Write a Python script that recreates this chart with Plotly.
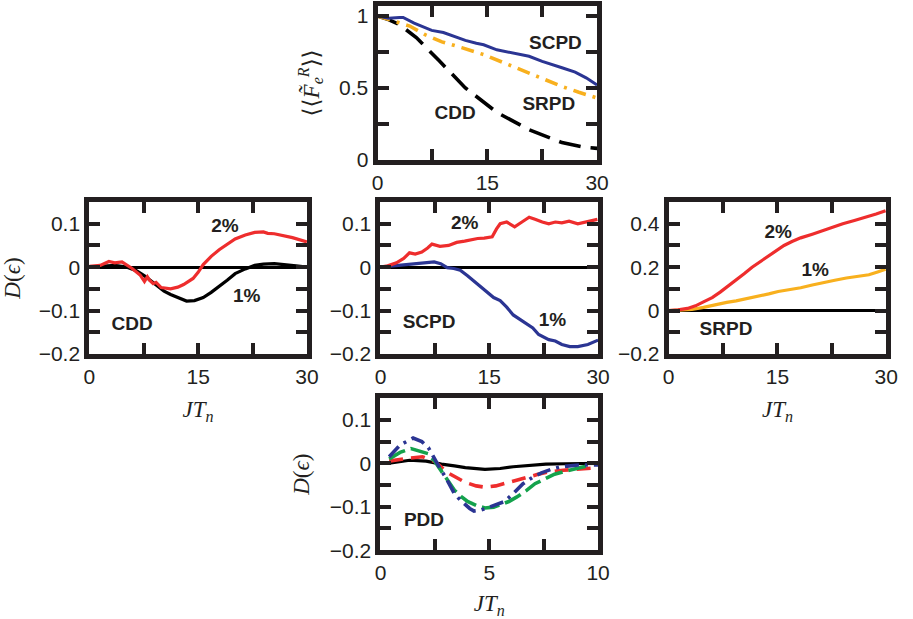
import plotly.graph_objects as go

W, H = 913, 619

# ---------------- data ----------------
# Top panel: <<F_e^R>> vs JT_n
top_scpd_x = [0, 1.5, 3.0, 3.5, 5, 7.4, 9, 10.5, 12, 13.5, 14.5, 16.3, 18.5, 20.7, 22.5, 23.8, 25.2, 27, 28.5, 30]
top_scpd_y = [1.0, 0.985, 0.99, 0.99, 0.95, 0.90, 0.885, 0.855, 0.83, 0.81, 0.80, 0.765, 0.745, 0.72, 0.685, 0.665, 0.64, 0.61, 0.57, 0.52]
top_srpd_x = [0, 2, 4.4, 6.5, 8.8, 11.5, 14.6, 17, 19.9, 22.5, 25.2, 27.5, 30]
top_srpd_y = [1.0, 0.97, 0.93, 0.87, 0.82, 0.78, 0.73, 0.68, 0.62, 0.57, 0.51, 0.47, 0.43]
top_cdd_x = [0, 1.5, 3, 5.3, 8.4, 12, 16.3, 20.7, 25.2, 28, 30]
top_cdd_y = [1.0, 0.975, 0.94, 0.85, 0.69, 0.50, 0.33, 0.21, 0.12, 0.09, 0.08]

# Left panel: CDD, D(eps)
cdd_2_x = [0, 1.5, 2.7, 3.5, 4.5, 5.9, 7.0, 7.6, 8.0, 8.3, 8.8, 9.2, 9.9, 11.2, 12.2, 13, 14.3, 15.0, 15.7, 16.8, 17.9, 19, 20.1, 21.5, 22.8, 24.0, 24.6, 25.5, 26.8, 28, 30]
cdd_2_y = [0.002, 0.004, 0.013, 0.010, 0.012, -0.003, -0.018, -0.033, -0.022, -0.030, -0.038, -0.035, -0.047, -0.050, -0.046, -0.040, -0.026, -0.012, 0.006, 0.025, 0.040, 0.053, 0.065, 0.074, 0.080, 0.081, 0.078, 0.077, 0.072, 0.068, 0.058]
cdd_1_x = [0, 2, 3.5, 5.2, 6.5, 7.6, 8.5, 9.4, 10.3, 11.2, 12.3, 13.4, 14.5, 15.7, 16.8, 17.9, 19, 20.1, 21.5, 22.8, 24, 25.5, 27, 28.5, 30]
cdd_1_y = [0.0, 0.003, 0.004, 0.0, -0.008, -0.020, -0.032, -0.045, -0.055, -0.063, -0.070, -0.078, -0.077, -0.070, -0.058, -0.045, -0.030, -0.015, -0.004, 0.004, 0.007, 0.008, 0.006, 0.003, 0.0]

# Middle panel: SCPD, D(eps)
scpd_2_x = [0, 1.0, 2.2, 3.2, 4.0, 4.8, 5.7, 6.5, 7.1, 8.2, 9.4, 10.5, 11.6, 12.5, 13.4, 14.3, 15.4, 16.0, 16.5, 17.4, 18.5, 19.5, 20.5, 21.4, 22.3, 23.2, 24.1, 25.0, 26.0, 27.2, 28.5, 29.9]
scpd_2_y = [0.0, 0.003, 0.010, 0.020, 0.033, 0.030, 0.035, 0.044, 0.053, 0.048, 0.050, 0.057, 0.060, 0.063, 0.066, 0.067, 0.070, 0.088, 0.100, 0.104, 0.093, 0.104, 0.115, 0.110, 0.104, 0.100, 0.104, 0.102, 0.106, 0.100, 0.105, 0.110]
scpd_1_x = [0, 2.0, 3.8, 5.5, 7.4, 8.3, 9.2, 10.1, 11.0, 12.0, 12.9, 13.8, 14.7, 15.6, 16.5, 17.4, 18.3, 19.2, 20.1, 21.0, 21.8, 22.5, 23.2, 24.1, 25.0, 26.1, 27.2, 28.6, 30]
scpd_1_y = [0.0, 0.003, 0.006, 0.008, 0.012, 0.008, -0.001, -0.003, -0.007, -0.020, -0.033, -0.046, -0.058, -0.070, -0.077, -0.092, -0.110, -0.120, -0.128, -0.140, -0.155, -0.162, -0.167, -0.170, -0.178, -0.183, -0.183, -0.178, -0.168]

# Right panel: SRPD, D(eps)
srpd_2_x = [0, 1.3, 2.6, 3.7, 4.8, 6.0, 7.1, 8.2, 9.3, 10.4, 11.5, 12.6, 13.8, 14.8, 15.9, 17.0, 18.2, 19.8, 21.3, 22.6, 24.0, 25.6, 27.2, 28.6, 29.9]
srpd_2_y = [0.0, 0.003, 0.010, 0.022, 0.040, 0.060, 0.085, 0.112, 0.140, 0.170, 0.200, 0.225, 0.250, 0.275, 0.300, 0.318, 0.335, 0.352, 0.370, 0.386, 0.400, 0.415, 0.430, 0.445, 0.460]
srpd_1_x = [0, 1.6, 3.2, 4.8, 6.6, 8.0, 9.3, 10.8, 12.4, 13.8, 15.1, 16.6, 18.2, 19.8, 21.3, 22.9, 24.5, 26.0, 27.6, 28.8, 29.9]
srpd_1_y = [0.0, 0.002, 0.005, 0.015, 0.030, 0.038, 0.045, 0.055, 0.065, 0.077, 0.088, 0.096, 0.105, 0.118, 0.130, 0.140, 0.150, 0.157, 0.165, 0.178, 0.190]

# Bottom panel: PDD, D(eps)
pdd_k_x = [0.4, 0.9, 1.34, 2.1, 2.8, 3.4, 3.9, 4.8, 5.5, 6.1, 6.8, 7.6, 8.5, 10]
pdd_k_y = [0.0, 0.004, 0.007, 0.005, -0.002, -0.006, -0.010, -0.014, -0.012, -0.008, -0.005, -0.002, -0.001, 0.0]
pdd_r_x = [0.4, 0.9, 1.34, 1.93, 2.5, 3.1, 3.5, 3.9, 4.4, 4.8, 5.3, 5.7, 6.2, 6.7, 7.2, 7.7, 8.4, 9.1, 10]
pdd_r_y = [0.005, 0.009, 0.012, 0.015, 0.004, -0.022, -0.034, -0.044, -0.052, -0.055, -0.052, -0.047, -0.040, -0.033, -0.026, -0.020, -0.016, -0.013, -0.010]
pdd_g_x = [0.4, 0.9, 1.4, 1.9, 2.2, 2.5, 2.8, 3.1, 3.4, 3.7, 4.0, 4.4, 4.8, 5.2, 5.5, 5.9, 6.25, 6.7, 7.1, 7.6, 8.0, 8.5, 9.1, 9.5]
pdd_g_y = [0.010, 0.025, 0.034, 0.026, 0.022, 0.004, -0.018, -0.040, -0.062, -0.076, -0.088, -0.097, -0.103, -0.101, -0.096, -0.088, -0.078, -0.063, -0.047, -0.035, -0.025, -0.018, -0.012, -0.006]
pdd_b_x = [0.4, 0.9, 1.5, 1.9, 2.2, 2.5, 2.75, 3.0, 3.2, 3.4, 3.65, 3.9, 4.1, 4.3, 4.6, 4.9, 5.3, 5.7, 6.1, 6.55, 7.0, 7.4, 7.9, 8.3, 9.1, 10]
pdd_b_y = [0.015, 0.042, 0.058, 0.050, 0.036, 0.007, -0.013, -0.033, -0.052, -0.070, -0.084, -0.095, -0.104, -0.110, -0.108, -0.103, -0.096, -0.088, -0.070, -0.047, -0.032, -0.022, -0.013, -0.008, -0.004, -0.004]

# tick definitions
tick30_vals = [0, 7.5, 15, 22.5, 30]
tick30_text = ["0", " ", "15", " ", "30"]
tick10_vals = [0, 2.5, 5, 7.5, 10]
tick10_text = ["0", " ", "5", " ", "10"]
tickF_vals = [0, 0.25, 0.5, 0.75, 1]
tickF_text = ["0", " ", "0.5", " ", "1"]
tickD_vals = [-0.2, -0.15, -0.1, -0.05, 0, 0.05, 0.1]
tickD_text = ["\u22120.2", " ", "\u22120.1", " ", "0", " ", "0.1"]
tickS_vals = [-0.2, -0.1, 0, 0.1, 0.2, 0.3, 0.4]
tickS_text = ["\u22120.2", " ", "0", " ", "0.2", " ", "0.4"]

# axis titles
title_F = "\u27e8\u27e8<i>F\u0303</i><sub><i>e</i></sub><sup><i>R</i></sup>\u27e9\u27e9"
title_D = "<i>D</i>(<i>\u03f5</i>)"
title_T = "<i>JT<sub>n</sub></i>"

BLUE = "#2B3593"
ORANGE = "#F8B01E"
RED = "#EE2D2D"
GREEN = "#14A24C"
BLACK = "#000000"

fig = go.Figure()

def add(x, y, ax, color, dash="solid", width=3.2):
    fig.add_trace(go.Scatter(x=x, y=y, xaxis="x" + ax, yaxis="y" + ax, mode="lines",
                             line=dict(color=color, width=width, dash=dash),
                             showlegend=False))

# top
add(top_cdd_x, top_cdd_y, "", BLACK, "22px,10px", 3.6)
add(top_srpd_x, top_srpd_y, "", ORANGE, "13px,7px,3px,7px", 3.6)
add(top_scpd_x, top_scpd_y, "", BLUE, "solid", 3.0)
# left
add(cdd_1_x, cdd_1_y, "2", BLACK, "solid", 3.2)
add(cdd_2_x, cdd_2_y, "2", RED, "solid", 3.2)
# middle
add(scpd_1_x, scpd_1_y, "3", BLUE, "solid", 3.2)
add(scpd_2_x, scpd_2_y, "3", RED, "solid", 3.2)
# right
add(srpd_1_x, srpd_1_y, "4", ORANGE, "solid", 3.2)
add(srpd_2_x, srpd_2_y, "4", RED, "solid", 3.2)
# bottom
add(pdd_k_x, pdd_k_y, "5", BLACK, "solid", 3.2)
add(pdd_r_x, pdd_r_y, "5", RED, "14px,8px", 3.6)
add(pdd_g_x, pdd_g_y, "5", GREEN, "18px,6px", 3.6)
add(pdd_b_x, pdd_b_y, "5", BLUE, "14px,6px,3px,6px", 3.6)

# in-panel labels as text traces
LBL = dict(family="Liberation Sans, Arial, sans-serif", size=19, color="#231F20")

def labels(ax, xs, ys, texts):
    fig.add_trace(go.Scatter(x=xs, y=ys, xaxis="x" + ax, yaxis="y" + ax, mode="text",
                             text=["<b>" + t + "</b>" for t in texts], textposition="middle center",
                             textfont=LBL, showlegend=False, hoverinfo="skip", cliponaxis=False))

labels("", [24.3, 23.4, 10.6], [0.80, 0.38, 0.315], ["SCPD", "SRPD", "CDD"])
labels("2", [18.7, 21.7, 5.9], [0.093, -0.069, -0.133], ["2%", "1%", "CDD"])
labels("3", [11.6, 23.7, 6.7], [0.098, -0.124, -0.129], ["2%", "1%", "SCPD"])
labels("4", [15.1, 20.2, 7.9], [0.356, 0.182, -0.089], ["2%", "1%", "SRPD"])
labels("5", [2.0], [-0.133], ["PDD"])

def dom_x(a, b):
    return [a / W, b / W]

def dom_y(top, bot):
    return [1 - bot / H, 1 - top / H]

TICKFONT = dict(family="Liberation Sans, Arial, sans-serif", size=21, color="#231F20")
TITLEFONT = dict(family="Liberation Serif, DejaVu Serif, serif", size=23, color="#231F20")

def axis(domain, anchor, vals, text, rng, zl=False, title=None):
    d = dict(domain=domain, range=rng, anchor=anchor,
             tickmode="array", tickvals=vals, ticktext=text,
             showline=True, linewidth=5, linecolor="#231F20", mirror="allticks",
             ticks="inside", ticklen=11, tickwidth=4, tickcolor="#231F20",
             showgrid=False, tickfont=TICKFONT,
             zeroline=zl, zerolinecolor="#000000", zerolinewidth=3)
    if title:
        d["title"] = dict(text=title, font=TITLEFONT)
    return d

fig.update_layout(
    width=W, height=H, margin=dict(l=0, r=0, t=0, b=0), plot_bgcolor="white",
    xaxis=axis(dom_x(379, 603), "y", tick30_vals, tick30_text, [0, 30]),
    yaxis=axis(dom_y(5, 162), "x", tickF_vals, tickF_text, [0, 1.07], title=title_F),
    xaxis2=axis(dom_x(85, 307), "y2", tick30_vals, tick30_text, [0, 30], title=title_T),
    yaxis2=axis(dom_y(205, 360), "x2", tickD_vals, tickD_text, [-0.2, 0.15], True, title=title_D),
    xaxis3=axis(dom_x(382, 604), "y3", tick30_vals, tick30_text, [0, 30]),
    yaxis3=axis(dom_y(205, 360), "x3", tickD_vals, tickD_text, [-0.2, 0.15], True),
    xaxis4=axis(dom_x(676, 898), "y4", tick30_vals, tick30_text, [0, 30], title=title_T),
    yaxis4=axis(dom_y(205, 360), "x4", tickS_vals, tickS_text, [-0.2, 0.5], True),
    xaxis5=axis(dom_x(382, 604), "y5", tick10_vals, tick10_text, [0, 10], title=title_T),
    yaxis5=axis(dom_y(405, 560), "x5", tickD_vals, tickD_text, [-0.2, 0.15], title=title_D),
)

fig.write_html("out.html")
